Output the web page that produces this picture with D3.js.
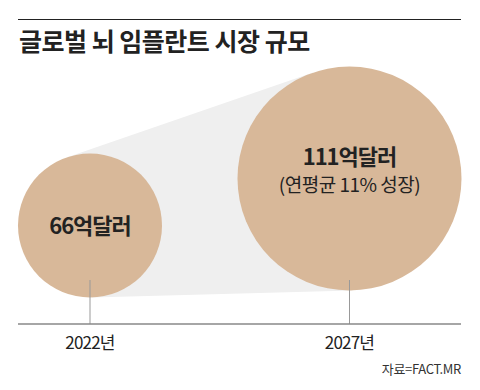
<!DOCTYPE html>
<html>
<head>
<meta charset="utf-8">
<script src="https://cdn.jsdelivr.net/npm/d3@7"></script>
<style>
  body { margin: 0; background: #fff; }
  svg { display: block; font-family: "Noto Sans CJK KR", sans-serif; }
</style>
</head>
<body>
<svg id="chart"></svg>
<script>
const title = '글로벌 뇌 임플란트 시장 규모';
const years = [2022, 2027];
const yearLabels = ['2022년', '2027년'];
const values = [66, 111]; // 억달러
const valueLabels = ['66억달러', '111억달러'];
const notes = ['', '(연평균 11% 성장)'];
const source = '자료=FACT.MR';

const W = 480, H = 390;
const left = 18, right = 461, axisY = 324;

const svg = d3.select('#chart').attr('width', W).attr('height', H);

const x = d3.scaleLinear().domain(d3.extent(years)).range([90, 349.5]);
const r = d3.scaleLinear().domain(d3.extent(values)).range([72, 112]);
const cy = d3.scaleLinear().domain(d3.extent(values)).range([225.5, 178.5]);

const data = years.map((y, i) => ({
  year: y, label: yearLabels[i], value: values[i],
  text: valueLabels[i], note: notes[i],
  cx: x(y), cy: cy(values[i]), r: r(values[i])
}));

// top rule + title
svg.append('line')
  .attr('x1', left).attr('x2', right).attr('y1', 19.5).attr('y2', 19.5)
  .attr('stroke', '#222').attr('stroke-width', 1);
svg.append('text')
  .attr('x', 19).attr('y', 51)
  .attr('font-size', 25).attr('font-weight', 700).attr('fill', '#222')
  .attr('letter-spacing', -0.5)
  .text(title);

// grey cone between the circles (outer tangents)
const [a, b] = data;
const dx = b.cx - a.cx, dy = b.cy - a.cy;
const d = Math.hypot(dx, dy);
const th = Math.atan2(dy, dx);
const al = Math.acos((a.r - b.r) / d);
const pt = (c, ang) => [c.cx + c.r * Math.cos(ang), c.cy + c.r * Math.sin(ang)];
const hull = [pt(a, th - al), pt(b, th - al), [b.cx, b.cy], pt(b, th + al), pt(a, th + al), [a.cx, a.cy]];
svg.append('path')
  .attr('d', d3.line()(hull) + 'Z')
  .attr('fill', '#efefef');

svg.selectAll('.bubble').data(data).enter().append('circle')
  .attr('class', 'bubble')
  .attr('cx', d => d.cx).attr('cy', d => d.cy).attr('r', d => d.r)
  .attr('fill', '#d8b899');

// stems and axis
svg.selectAll('.stem').data(data).enter().append('line')
  .attr('class', 'stem')
  .attr('x1', d => d.cx).attr('x2', d => d.cx)
  .attr('y1', 280).attr('y2', axisY)
  .attr('stroke', '#999').attr('stroke-width', 1);

svg.append('line')
  .attr('x1', left).attr('x2', right).attr('y1', axisY).attr('y2', axisY)
  .attr('stroke', '#888').attr('stroke-width', 1.5);

// labels in circles
svg.selectAll('.val').data(data).enter().append('text')
  .attr('class', 'val')
  .attr('x', d => d.cx)
  .attr('y', d => d.note ? d.cy - 14 : d.cy + 8)
  .attr('text-anchor', 'middle')
  .attr('font-size', 22).attr('font-weight', 700).attr('fill', '#222')
  .attr('letter-spacing', -1)
  .text(d => d.text);

svg.selectAll('.note').data(data.filter(d => d.note)).enter().append('text')
  .attr('class', 'note')
  .attr('x', d => d.cx).attr('y', d => d.cy + 13)
  .attr('text-anchor', 'middle')
  .attr('font-size', 19).attr('fill', '#222')
  .attr('letter-spacing', -0.5)
  .text(d => d.note);

// year labels
svg.selectAll('.year').data(data).enter().append('text')
  .attr('class', 'year')
  .attr('x', d => d.cx).attr('y', 349)
  .attr('text-anchor', 'middle')
  .attr('font-size', 17).attr('fill', '#222')
  .attr('letter-spacing', -0.8)
  .text(d => d.label);

svg.append('text')
  .attr('x', right).attr('y', 374)
  .attr('text-anchor', 'end')
  .attr('font-size', 13).attr('fill', '#333')
  .attr('letter-spacing', -0.3)
  .text(source);
</script>
</body>
</html>
